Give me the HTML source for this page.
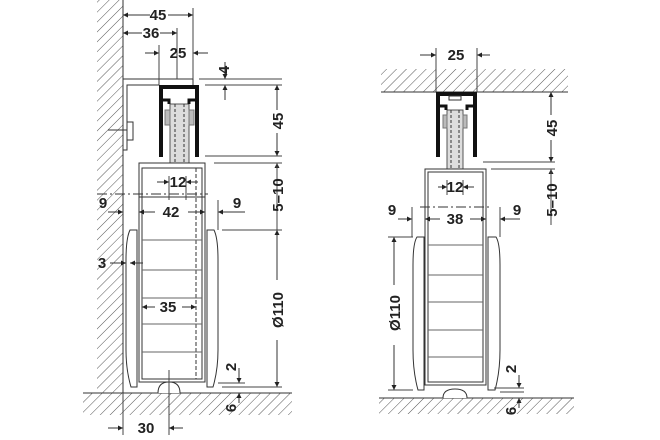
<!DOCTYPE html>
<html><head><meta charset="utf-8"><style>
html,body{margin:0;padding:0;background:#fff}
svg{display:block}
text{font-family:"Liberation Sans",sans-serif;font-weight:bold;font-size:15px;fill:#222}
</style></head><body>
<svg width="660" height="440" viewBox="0 0 660 440" xmlns="http://www.w3.org/2000/svg">
<defs>
<pattern id="h" width="7" height="7" patternUnits="userSpaceOnUse" patternTransform="rotate(45)">
<line x1="0" y1="0" x2="0" y2="7" stroke="#555" stroke-width="1"/></pattern>
<marker id="a" viewBox="0 0 10 10" refX="10" refY="5" markerWidth="7" markerHeight="5" orient="auto-start-reverse" markerUnits="userSpaceOnUse"><path d="M0,0L10,5L0,10z" fill="#222"/></marker>
</defs>
<g stroke="#333" stroke-width="1" fill="none">
<!-- LEFT wall & floor -->
<rect x="97" y="0" width="26" height="393" fill="url(#h)" stroke="none"/>
<line x1="123" y1="0" x2="123" y2="393"/>
<rect x="83" y="393" width="209" height="22" fill="url(#h)" stroke="none"/>
<line x1="83" y1="393" x2="292" y2="393"/>
<!-- bracket -->
<polyline points="123,79 193,79 193,85"/>
<polyline points="159,85 127,85 127,150 123,150"/>
<rect x="127" y="122" width="6" height="18" fill="#fff"/>
<line x1="108" y1="130" x2="127" y2="130"/>
<!-- track -->
<rect x="170" y="104" width="19" height="59" fill="#ddd" stroke="#555"/>
<line x1="175" y1="104" x2="175" y2="163" stroke-dasharray="3,2"/>
<line x1="184" y1="104" x2="184" y2="163" stroke-dasharray="3,2"/>
<rect x="165" y="110" width="5" height="15" fill="#bbb" stroke="#777"/>
<rect x="189" y="110" width="5" height="15" fill="#bbb" stroke="#777"/>
<path d="M161,157V87H197V157" stroke="#111" stroke-width="4"/>
<path d="M163,100H169V104M195,100H189V104" stroke="#111" stroke-width="3"/>
<!-- carriage -->
<rect x="139" y="163" width="66" height="219"/>
<rect x="142" y="168" width="60" height="211"/>
<line x1="196" y1="168" x2="196" y2="379" stroke-dasharray="4,2"/>
<line x1="97" y1="194" x2="208" y2="194" stroke-dasharray="10,3,2,3"/>
<line x1="139" y1="197" x2="205" y2="197"/>
<!-- wheel -->
<path d="M130,230H137V387H131Q126,370 126,350V260Q126,238 130,230Z" fill="#fff"/>
<path d="M214,230H207V387H213Q218,370 218,350V260Q218,238 214,230Z" fill="#fff"/>
<g stroke="#666"><line x1="142" y1="240" x2="202" y2="240"/><line x1="142" y1="270" x2="202" y2="270"/><line x1="142" y1="298" x2="202" y2="298"/><line x1="142" y1="324" x2="202" y2="324"/><line x1="142" y1="352" x2="202" y2="352"/></g>
<path d="M158,393Q158,382 169,382Q180,382 180,393" fill="#fff"/>
<!-- left dims -->
<g marker-end="url(#a)">
<line x1="150" y1="15" x2="123" y2="15"/><line x1="168" y1="15" x2="193" y2="15"/>
<line x1="142" y1="33" x2="123" y2="33"/><line x1="160" y1="33" x2="177" y2="33"/>
<line x1="145" y1="53" x2="159" y2="53"/><line x1="208" y1="53" x2="193" y2="53"/>
<line x1="225" y1="62" x2="225" y2="79"/><line x1="225" y1="100" x2="225" y2="85"/>
<line x1="277" y1="110" x2="277" y2="85"/><line x1="277" y1="133" x2="277" y2="156"/>
<line x1="277" y1="180" x2="277" y2="163"/>
<line x1="157" y1="182" x2="169" y2="182"/><line x1="198" y1="182" x2="186" y2="182"/>
<line x1="155" y1="212" x2="139" y2="212"/><line x1="188" y1="212" x2="205" y2="212"/>
<line x1="108" y1="212" x2="123" y2="212"/><line x1="245" y1="212" x2="218" y2="212"/>
<line x1="277" y1="280" x2="277" y2="230"/><line x1="277" y1="340" x2="277" y2="387"/>
<line x1="110" y1="263" x2="126" y2="263"/><line x1="143" y1="263" x2="130" y2="263"/>
<line x1="155" y1="307" x2="142" y2="307"/><line x1="182" y1="307" x2="196" y2="307"/>
<line x1="239" y1="368" x2="239" y2="383"/><line x1="239" y1="403" x2="239" y2="393"/>
<line x1="108" y1="428" x2="123" y2="428"/><line x1="183" y1="428" x2="169" y2="428"/>
</g>
<g stroke="#444">
<line x1="193" y1="8" x2="193" y2="79"/><line x1="177" y1="28" x2="177" y2="79"/>
<line x1="159" y1="45" x2="159" y2="85"/><line x1="193" y1="45" x2="193" y2="79"/>
<line x1="199" y1="79" x2="282" y2="79"/><line x1="205" y1="85" x2="282" y2="85"/>
<line x1="205" y1="156" x2="282" y2="156"/><line x1="214" y1="163" x2="282" y2="163"/>
<line x1="169" y1="176" x2="169" y2="200"/><line x1="186" y1="176" x2="186" y2="200"/>
<line x1="218" y1="200" x2="218" y2="230"/><line x1="222" y1="230" x2="282" y2="230"/>
<line x1="222" y1="387" x2="282" y2="387"/><line x1="218" y1="383" x2="245" y2="383"/>
<line x1="123" y1="393" x2="123" y2="435"/><line x1="169" y1="370" x2="169" y2="435"/>
<line x1="277" y1="163" x2="277" y2="230"/>
</g>
<!-- RIGHT ceiling/floor -->
<rect x="381" y="69" width="187" height="23" fill="url(#h)" stroke="none"/>
<line x1="381" y1="92" x2="568" y2="92"/>
<rect x="379" y="398" width="195" height="16" fill="url(#h)" stroke="none"/>
<line x1="379" y1="398" x2="574" y2="398"/>
<rect x="447" y="110" width="16" height="59" fill="#ddd" stroke="#555"/>
<line x1="451" y1="110" x2="451" y2="169" stroke-dasharray="3,2"/>
<line x1="459" y1="110" x2="459" y2="169" stroke-dasharray="3,2"/>
<rect x="443" y="115" width="4" height="13" fill="#bbb" stroke="#777"/>
<rect x="463" y="115" width="4" height="13" fill="#bbb" stroke="#777"/>
<path d="M438,157V94H475V157" stroke="#111" stroke-width="4"/>
<path d="M440,106H446V110M473,106H467V110" stroke="#111" stroke-width="3"/>
<rect x="449" y="96" width="12" height="4" fill="#fff"/>
<rect x="425" y="169" width="61" height="216"/>
<rect x="428" y="172" width="55" height="210"/>
<line x1="420" y1="207" x2="490" y2="207" stroke-dasharray="10,3,2,3"/>
<path d="M417,237H424V390H418Q413,372 413,350V265Q413,243 417,237Z" fill="#fff"/>
<path d="M496,237H488V390H495Q500,372 500,350V265Q500,243 496,237Z" fill="#fff"/>
<g stroke="#666"><line x1="428" y1="245" x2="483" y2="245"/><line x1="428" y1="275" x2="483" y2="275"/><line x1="428" y1="302" x2="483" y2="302"/><line x1="428" y1="330" x2="483" y2="330"/><line x1="428" y1="357" x2="483" y2="357"/></g>
<path d="M443,398Q443,389 455,389Q467,389 467,398" fill="#fff"/>
<g marker-end="url(#a)">
<line x1="420" y1="55" x2="436" y2="55"/><line x1="490" y1="55" x2="477" y2="55"/>
<line x1="551" y1="115" x2="551" y2="92"/><line x1="551" y1="140" x2="551" y2="162"/>
<line x1="551" y1="183" x2="551" y2="169"/>
<line x1="438" y1="187" x2="447" y2="187"/><line x1="474" y1="187" x2="463" y2="187"/>
<line x1="440" y1="219" x2="425" y2="219"/><line x1="470" y1="219" x2="486" y2="219"/>
<line x1="398" y1="219" x2="412" y2="219"/><line x1="520" y1="219" x2="500" y2="219"/>
<line x1="394" y1="285" x2="394" y2="237"/><line x1="394" y1="345" x2="394" y2="390"/>
<line x1="519" y1="375" x2="519" y2="388"/><line x1="519" y1="408" x2="519" y2="398"/>
</g>
<g stroke="#444">
<line x1="436" y1="48" x2="436" y2="92"/><line x1="477" y1="48" x2="477" y2="92"/>
<line x1="483" y1="162" x2="555" y2="162"/><line x1="491" y1="169" x2="555" y2="169"/>
<line x1="551" y1="169" x2="551" y2="225"/>
<line x1="447" y1="180" x2="447" y2="195"/><line x1="463" y1="180" x2="463" y2="195"/>
<line x1="412" y1="207" x2="412" y2="237"/><line x1="500" y1="207" x2="500" y2="237"/>
<line x1="388" y1="237" x2="413" y2="237"/><line x1="388" y1="390" x2="413" y2="390"/>
<line x1="494" y1="388" x2="524" y2="388"/><line x1="500" y1="392" x2="524" y2="392"/>
</g>
</g>
<!-- labels -->
<text x="158" y="20" text-anchor="middle">45</text>
<text x="151" y="38" text-anchor="middle">36</text>
<text x="178" y="58" text-anchor="middle">25</text>
<text transform="translate(229,70) rotate(-90)" text-anchor="middle">4</text>
<text transform="translate(283,121) rotate(-90)" text-anchor="middle">45</text>
<text transform="translate(283,195) rotate(-90)" text-anchor="middle">5–10</text>
<text x="178" y="187" text-anchor="middle">12</text>
<text x="171" y="217" text-anchor="middle">42</text>
<text x="103" y="208" text-anchor="middle">9</text>
<text x="237" y="208" text-anchor="middle">9</text>
<text x="102" y="268" text-anchor="middle">3</text>
<text x="168" y="312" text-anchor="middle">35</text>
<text transform="translate(283,310) rotate(-90)" text-anchor="middle">Ø110</text>
<text transform="translate(236,367) rotate(-90)" text-anchor="middle">2</text>
<text transform="translate(236,408) rotate(-90)" text-anchor="middle">6</text>
<text x="146" y="433" text-anchor="middle">30</text>
<text x="456" y="60" text-anchor="middle">25</text>
<text transform="translate(557,128) rotate(-90)" text-anchor="middle">45</text>
<text transform="translate(557,200) rotate(-90)" text-anchor="middle">5–10</text>
<text x="455" y="192" text-anchor="middle">12</text>
<text x="455" y="224" text-anchor="middle">38</text>
<text x="392" y="215" text-anchor="middle">9</text>
<text x="517" y="215" text-anchor="middle">9</text>
<text transform="translate(400,313) rotate(-90)" text-anchor="middle">Ø110</text>
<text transform="translate(516,369) rotate(-90)" text-anchor="middle">2</text>
<text transform="translate(516,411) rotate(-90)" text-anchor="middle">6</text>
</svg>
</body></html>
